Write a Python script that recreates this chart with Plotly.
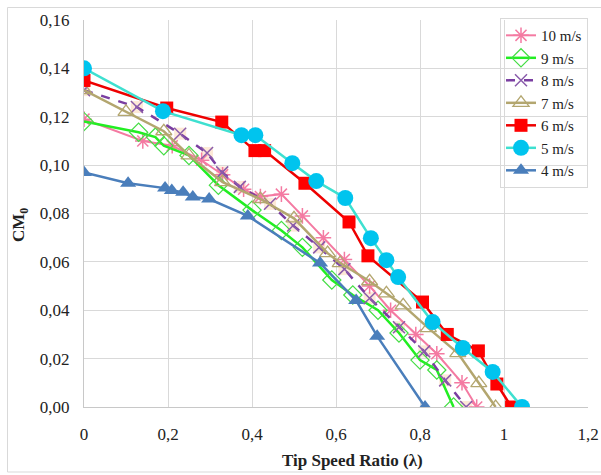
import plotly.graph_objects as go

# ---- data ----
series_names = ["10 m/s", "9 m/s", "8 m/s", "7 m/s", "6 m/s", "5 m/s", "4 m/s"]

tsr_10 = [0, 0.14, 0.21, 0.28, 0.33, 0.38, 0.42, 0.47, 0.52, 0.57, 0.62, 0.68, 0.73, 0.79, 0.84, 0.90, 0.935]
cm_10 = [0.119, 0.110, 0.108, 0.102, 0.096, 0.090, 0.087, 0.088, 0.079, 0.070, 0.061, 0.050, 0.040, 0.030, 0.022, 0.010, 0.0]

tsr_9 = [0, 0.13, 0.17, 0.19, 0.25, 0.32, 0.40, 0.47, 0.52, 0.59, 0.64, 0.70, 0.75, 0.80, 0.84, 0.88]
cm_9 = [0.118, 0.1136, 0.1116, 0.108, 0.104, 0.0917, 0.0814, 0.073, 0.066, 0.0525, 0.0463, 0.040, 0.0306, 0.0194, 0.0153, 0.0]

tsr_8 = [0, 0.126, 0.229, 0.293, 0.329, 0.371, 0.443, 0.498, 0.56, 0.62, 0.68, 0.75, 0.81, 0.86, 0.91]
cm_8 = [0.131, 0.124, 0.113, 0.105, 0.097, 0.091, 0.084, 0.075, 0.066, 0.057, 0.045, 0.033, 0.023, 0.011, 0.0]

tsr_7 = [0, 0.10, 0.19, 0.25, 0.33, 0.42, 0.50, 0.58, 0.61, 0.68, 0.72, 0.76, 0.82, 0.89, 0.94, 0.98]
cm_7 = [0.131, 0.122, 0.114, 0.104, 0.093, 0.086, 0.078, 0.0636, 0.0595, 0.052, 0.047, 0.042, 0.0326, 0.0223, 0.0099, 0.0]

tsr_6 = [0, 0.197, 0.328, 0.407, 0.43, 0.526, 0.631, 0.676, 0.806, 0.865, 0.939, 0.983, 1.018]
cm_6 = [0.135, 0.1236, 0.1178, 0.106, 0.106, 0.0925, 0.0765, 0.0625, 0.0434, 0.030, 0.0232, 0.0095, 0.0]

tsr_5 = [0, 0.188, 0.375, 0.408, 0.496, 0.553, 0.622, 0.683, 0.72, 0.748, 0.83, 0.902, 0.973, 1.043]
cm_5 = [0.140, 0.1223, 0.1124, 0.1124, 0.1008, 0.0934, 0.0864, 0.0698, 0.0607, 0.0537, 0.0351, 0.0244, 0.0145, 0.0]

tsr_4 = [0, 0.105, 0.193, 0.209, 0.236, 0.259, 0.298, 0.39, 0.562, 0.648, 0.698, 0.812]
cm_4 = [0.097, 0.0925, 0.0905, 0.0895, 0.0888, 0.0868, 0.086, 0.079, 0.0595, 0.044, 0.0293, 0.0]

x_ticks = [0, 0.2, 0.4, 0.6, 0.8, 1.0, 1.2]
x_ticktext = ["0", "0,2", "0,4", "0,6", "0,8", "1", "1,2"]
y_ticks = [0, 0.02, 0.04, 0.06, 0.08, 0.10, 0.12, 0.14, 0.16]
y_ticktext = ["0,00", "0,02", "0,04", "0,06", "0,08", "0,10", "0,12", "0,14", "0,16"]

FONT = "Liberation Serif, Times New Roman, serif"

PL, PT, PR, PB = 84, 20, 588, 407          # plot area in page pixels
PW, PH = PR - PL, PB - PT
W, H = 601, 475


def px_x(p):
    return (p - PL) / PW


def px_y(p):
    return (PB - p) / PH


fig = go.Figure()

# cream backing squares behind 8 m/s X markers (Excel-style marker fill)
fig.add_trace(go.Scatter(x=tsr_8, y=cm_8, mode="markers", showlegend=False, hoverinfo="skip",
                         marker=dict(symbol="square", size=12, color="rgba(252,228,205,0.8)", line=dict(width=0))))

fig.add_trace(go.Scatter(x=tsr_10, y=cm_10, name=series_names[0], mode="lines+markers",
                         line=dict(color="#f47aa2", width=2),
                         marker=dict(symbol="asterisk-open", size=13, color="#f47aa2", line=dict(width=1.5, color="#f47aa2"))))
fig.add_trace(go.Scatter(x=tsr_9, y=cm_9, name=series_names[1], mode="lines+markers",
                         line=dict(color="#22ee22", width=2.5),
                         marker=dict(symbol="diamond-open", size=14, color="#44dd44", line=dict(width=1.2))))
fig.add_trace(go.Scatter(x=tsr_8, y=cm_8, name=series_names[2], mode="lines+markers",
                         line=dict(color="#7a3ea1", width=2.5, dash="dash"),
                         marker=dict(symbol="x-thin-open", size=12, color="#8a5cab", line=dict(width=1.5, color="#8a5cab"))))
fig.add_trace(go.Scatter(x=tsr_7, y=cm_7, name=series_names[3], mode="lines+markers",
                         line=dict(color="#b3a66f", width=2.5),
                         marker=dict(symbol="triangle-up-open", size=14, color="#b3a66f", line=dict(width=1.3))))
fig.add_trace(go.Scatter(x=tsr_6, y=cm_6, name=series_names[4], mode="lines+markers",
                         line=dict(color="#ee0000", width=2.5),
                         marker=dict(symbol="square", size=13, color="#ff0000")))
fig.add_trace(go.Scatter(x=tsr_5, y=cm_5, name=series_names[5], mode="lines+markers",
                         line=dict(color="#3ee0d0", width=2.5),
                         marker=dict(symbol="circle", size=16, color="#00c4ee")))
fig.add_trace(go.Scatter(x=tsr_4, y=cm_4, name=series_names[6], mode="lines+markers",
                         line=dict(color="#4a7ebb", width=2.5),
                         marker=dict(symbol="triangle-up", size=14, color="#4a7ebb")))

fig.update_layout(
    width=W, height=H,
    margin=dict(l=PL, r=W - PR, t=PT, b=H - PB, autoexpand=False),
    paper_bgcolor="white", plot_bgcolor="white",
    font=dict(family=FONT, color="#222222"),
    showlegend=True,
    legend=dict(
        x=1.0, xanchor="right", y=1.005, yanchor="top",
        bgcolor="rgba(0,0,0,0)", bordercolor="#d9d9d9", borderwidth=1,
        font=dict(family=FONT, size=15, color="#222222"),
        tracegroupgap=0, itemwidth=30,
    ),
    xaxis=dict(
        range=[0, 1.2], tickvals=x_ticks, ticktext=x_ticktext,
        showgrid=True, gridcolor="#d9d9d9", gridwidth=1,
        showline=True, linecolor="#c8c8c8", linewidth=1,
        zeroline=False, ticks="", ticklabelstandoff=12,
        tickfont=dict(family=FONT, size=17, color="#222222"),
    ),
    yaxis=dict(
        range=[0, 0.16], tickvals=y_ticks, ticktext=y_ticktext,
        showgrid=True, gridcolor="#d9d9d9", gridwidth=1,
        showline=True, linecolor="#c8c8c8", linewidth=1,
        zeroline=False, ticks="", ticklabelstandoff=10,
        tickfont=dict(family=FONT, size=17, color="#222222"),
    ),
    annotations=[
        dict(text="<b>Tip Speed Ratio (λ)</b>", xref="paper", yref="paper",
             x=px_x(352), y=px_y(460), xanchor="center", yanchor="middle",
             showarrow=False, font=dict(family=FONT, size=17, color="#222222")),
        dict(text="<b>CM<sub>0</sub></b>", xref="paper", yref="paper",
             x=px_x(20), y=px_y(225), xanchor="center", yanchor="middle",
             textangle=-90, showarrow=False, font=dict(family=FONT, size=17, color="#222222")),
    ],
    shapes=[
        dict(type="rect", xref="paper", yref="paper",
             x0=px_x(7.5), x1=px_x(620), y0=px_y(472), y1=px_y(7.5),
             line=dict(color="#d9d9d9", width=1), fillcolor="rgba(0,0,0,0)", layer="below"),
    ],
)

fig.write_html(
    "out.html",
    config={"displayModeBar": False},
    post_script="document.body.style.margin='0px';document.body.style.overflow='hidden';",
)
